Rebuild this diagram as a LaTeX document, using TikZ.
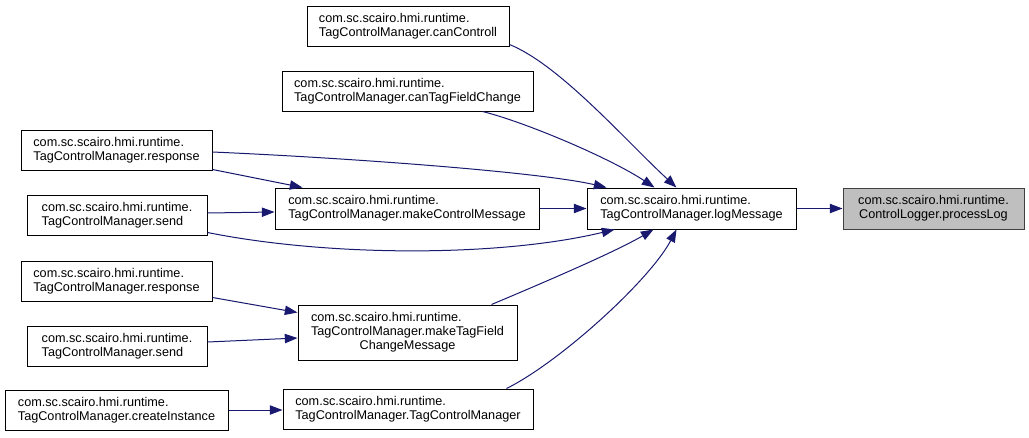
\documentclass[tikz,border=0pt]{standalone}
\usepackage{fontspec}
\setmainfont{Liberation Sans}
\usetikzlibrary{arrows.meta,calc}
\definecolor{edgeblue}{HTML}{191970}
\definecolor{rootfill}{HTML}{BFBFBF}
\definecolor{rootdraw}{HTML}{404040}
\begin{document}
\begin{tikzpicture}[x=0.75pt,y=-0.75pt,
  fnode/.style={draw=black, line width=0.75pt, inner sep=2pt,
    font=\fontsize{9.5}{10.5}\selectfont, align=left, minimum height=30pt},
  rootnode/.style={fnode, fill=rootfill, draw=rootdraw, align=center, minimum height=30.75pt},
  calls/.style={draw=edgeblue, line width=0.75pt, -{Triangle[length=9.5pt,width=7pt]}}]
\useasboundingbox (0,0) rectangle (1029,437);

% nodes
\node[fnode, minimum width=151.5pt] (cc) at (408,26)
  {com.sc.scairo.hmi.runtime.\\TagControlManager.canControll};
\node[fnode, minimum width=188.25pt] (ctf) at (407.5,91)
  {com.sc.scairo.hmi.runtime.\\TagControlManager.canTagFieldChange};
\node[fnode, minimum width=143.25pt] (r1) at (116.5,150)
  {com.sc.scairo.hmi.runtime.\\TagControlManager.response};
\node[fnode, minimum width=135pt] (s1) at (117,215)
  {com.sc.scairo.hmi.runtime.\\TagControlManager.send};
\node[fnode, minimum width=198pt, minimum height=30.75pt] (mcm) at (407,208.5)
  {com.sc.scairo.hmi.runtime.\\TagControlManager.makeControlMessage};
\node[fnode, minimum width=156.75pt, minimum height=30.75pt] (lm) at (691.5,208.5)
  {com.sc.scairo.hmi.runtime.\\TagControlManager.logMessage};
\node[rootnode, minimum width=135.75pt] (pl) at (933.5,208.5)
  {com.sc.scairo.hmi.runtime.\\ControlLogger.processLog};
\node[fnode, minimum width=143.25pt] (r2) at (116.5,281)
  {com.sc.scairo.hmi.runtime.\\TagControlManager.response};
\node[fnode, minimum width=135pt] (s2) at (117,346)
  {com.sc.scairo.hmi.runtime.\\TagControlManager.send};
\node[fnode, minimum width=164.25pt, minimum height=41.25pt] (mtf) at (407.5,332.5)
  {\begin{tabular}{@{}l@{}}com.sc.scairo.hmi.runtime.\\TagControlManager.makeTagField\\\multicolumn{1}{@{}c@{}}{ChangeMessage}\end{tabular}};
\node[fnode, minimum width=167.25pt] (ci) at (116.5,410)
  {com.sc.scairo.hmi.runtime.\\TagControlManager.createInstance};
\node[fnode, minimum width=187.5pt] (tcm) at (408,409)
  {com.sc.scairo.hmi.runtime.\\TagControlManager.TagControlManager};

% connectors
\draw[calls] ($(cc.south east)+(0,-2)$) .. controls (560,65) and (625,140) .. ($(lm.north west)+(90,0)$);
\draw[calls] ($(ctf.south west)+(201,0)$) .. controls (525,122) and (610,158) .. ($(lm.north west)+(68,0)$);
\draw[calls] ($(r1.east)+(0,2)$) .. controls (350,158) and (540,172) .. ($(lm.north west)+(20,0)$);
\draw[calls] ($(r1.south east)+(0,-1)$) -- ($(mcm.north west)+(28,0)$);
\draw[calls] ($(s1.east)+(0,-2)$) -- ($(mcm.west)+(0,3.5)$);
\draw[calls] ($(s1.south east)+(0,-3)$) .. controls (330,257) and (500,257) .. ($(lm.south west)+(28,0)$);
\draw[calls] (mcm.east) -- (lm.west);
\draw[calls] (lm.east) -- (pl.west);
\draw[calls] ($(r2.south east)+(0,-4)$) -- ($(mtf.north west)+(0,8)$);
\draw[calls] ($(s2.east)+(0,-4)$) -- ($(mtf.west)+(0,5.5)$);
\draw[calls] ($(mtf.north west)+(194,0)$) .. controls (545,282) and (615,252) .. ($(lm.south west)+(67,0)$);
\draw[calls] ($(tcm.north west)+(224,0)$) .. controls (560,362) and (650,280) .. ($(lm.south west)+(90,0)$);
\draw[calls] (ci.east) -- (ci.east -| tcm.west);
\end{tikzpicture}
\end{document}
